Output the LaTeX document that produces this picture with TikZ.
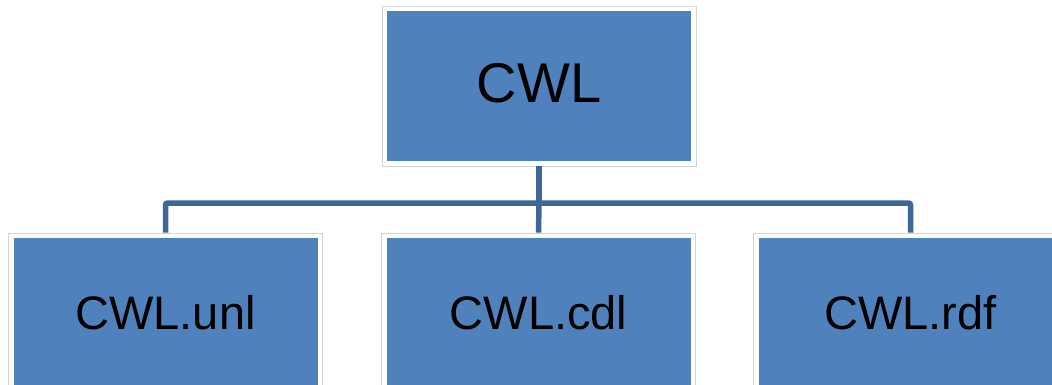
\documentclass[tikz,border=0pt]{standalone}
\usepackage{fontspec}
\setmainfont{Liberation Sans}
\definecolor{boxblue}{HTML}{4F81BD}
\definecolor{edgegray}{HTML}{D4D4D4}
\definecolor{linkblue}{HTML}{3D6797}
\tikzset{
  box/.style={draw=edgegray, line width=0.9pt, fill=white, inner sep=0pt,
    minimum width=314pt, minimum height=160pt, text=black,
    path picture={\fill[boxblue] ([shift={(5pt,-5pt)}]path picture bounding box.north west) rectangle ([shift={(-5pt,5pt)}]path picture bounding box.south east);}},
  topbox/.style={box, font=\fontsize{56}{60}\selectfont, text depth=7pt},
  leafbox/.style={box, font=\fontsize{47}{52}\selectfont},
  link/.style={draw=linkblue, line width=5.5pt, rounded corners=2pt}
}
\begin{document}
\begin{tikzpicture}[x=1pt,y=-1pt]
\useasboundingbox (0,0) rectangle (1052,385);
\clip (0,0) rectangle (1052,385);
\node[topbox] (top) at (539,86) {CWL};
\node[leafbox] (unl) at (165.5,313) {CWL.unl};
\node[leafbox] (cdl) at (538.5,313) {CWL.cdl};
\node[leafbox] (rdf) at (910.5,313) {CWL.rdf};
\coordinate (bus) at (539,203);
\draw[link] (top.south) -- (bus);
\draw[link] (bus) -| (unl.north);
\draw[link] (bus) -| (rdf.north);
\draw[link] (bus) -- (cdl.north);
\end{tikzpicture}
\end{document}
